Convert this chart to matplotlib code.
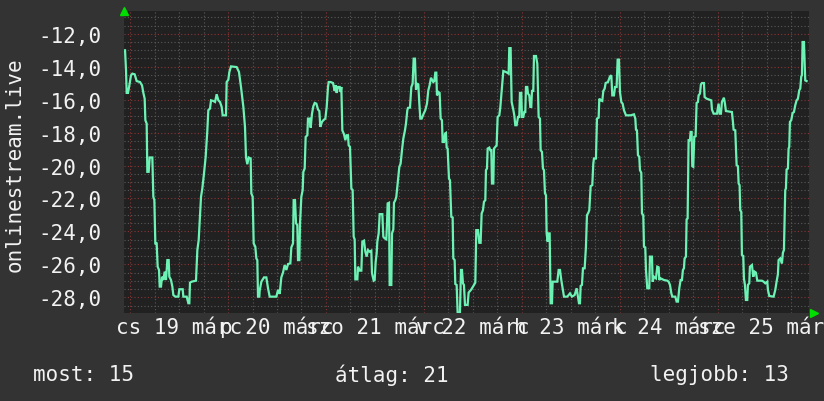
import numpy as np
import matplotlib.pyplot as plt
from matplotlib.ticker import MultipleLocator, FuncFormatter

# --- 1. Data (hours since 19 Mar 00:00, value) ---
hours = [
    -1.22, -0.98, -0.82, -0.49, -0.16, 0.24, 0.57, 1.14, 1.63, 2.45, 2.94, 3.27, 3.59, 3.76, 4.08,
    4.24, 4.57, 4.82, 5.47, 5.71, 5.96, 6.20, 6.53, 6.77, 7.10, 7.27, 7.59, 7.84, 8.16, 8.49,
    8.82, 9.14, 9.47, 9.63, 10.04, 10.37, 10.61, 11.10, 11.84, 12.08, 12.90, 13.06, 13.88, 14.29, 14.53,
    14.69, 15.10, 16.16, 16.49, 16.82, 17.14, 17.39, 17.71, 18.12, 18.53, 18.94, 19.18, 19.59, 19.84, 20.41,
    20.82, 21.22, 21.63, 22.04, 22.45, 22.69, 23.51, 23.67, 24.08, 24.33, 24.73, 26.12, 26.69, 27.18, 27.76,
    28.16, 28.41, 28.73, 29.06, 29.55, 29.71, 30.04, 30.29, 30.69, 30.94, 31.18, 31.35, 31.67,
    31.76, 32.17, 32.82, 33.39, 33.80, 34.21, 35.84, 36.25, 36.66, 37.06, 37.47, 37.88, 38.29, 38.70, 39.27,
    39.51, 39.92, 40.08, 40.41, 40.66, 40.98, 41.15, 41.47, 41.64, 41.96, 42.29, 42.45, 42.78, 43.02, 43.43,
    43.59, 44.00, 44.25, 44.57, 44.90, 45.23, 45.64, 46.04, 46.37, 46.61, 47.02, 47.35, 47.84, 48.17, 48.49,
    48.66, 49.15, 49.72, 50.13, 50.37, 50.61, 50.94, 51.35, 51.59, 51.76, 52.00, 52.41, 52.74, 53.06, 53.39,
    53.55, 53.88, 54.21, 54.53, 54.78, 55.02, 55.19, 55.68, 55.84, 56.25, 56.66, 56.90, 57.31, 57.64, 57.96,
    58.29, 58.70, 59.10, 59.27, 59.68, 59.92, 60.17, 60.41, 60.57, 60.90, 61.15, 61.80, 62.04, 62.37, 62.78,
    62.94, 63.10, 63.43, 63.59, 64.00, 64.17, 64.49, 64.65, 64.98, 65.22,
    65.55, 65.96, 66.28, 66.61, 66.94, 67.34, 67.59, 67.92, 68.08, 68.57, 68.90, 69.22, 69.47, 69.79, 70.04,
    70.28, 70.61, 70.85, 71.10, 71.43, 71.92, 72.32, 72.73, 73.06, 73.38, 73.71, 74.28, 74.53, 74.77, 75.02,
    75.18, 75.51, 75.83, 76.08, 76.40, 76.57, 76.90, 77.14, 77.38, 77.55, 77.79, 78.12, 78.36, 78.69, 79.02,
    79.18, 79.51, 79.67, 80.00, 80.24, 80.81, 81.06, 81.30, 81.55, 81.79, 82.04, 82.69, 82.94, 83.51, 83.91,
    84.57, 84.81, 85.22, 85.55, 85.87, 86.12, 86.45, 86.69, 87.02, 87.18, 87.43, 87.59, 88.00, 88.24, 88.49,
    88.65, 88.98, 89.14, 89.47, 89.79, 90.04, 90.45, 90.69, 91.10, 91.43, 92.08, 92.49, 92.73, 92.89, 93.22,
    93.47, 93.87, 94.12, 94.36, 94.69, 95.02, 95.34, 95.51, 95.83, 96.00, 96.32, 96.57, 96.81, 96.98, 97.30,
    97.47, 97.79, 98.04, 98.28, 98.45, 98.77, 98.94, 99.43,
    99.76, 100.08, 100.41, 100.57, 100.90, 101.14, 101.39, 101.63, 101.88, 102.04, 102.29, 102.53, 102.78, 103.02, 103.35,
    103.51, 104.65, 104.98, 105.31, 105.63, 105.96, 106.29, 107.10, 107.76, 108.24, 108.90, 109.39, 109.71, 109.96, 110.20,
    110.37, 110.69, 110.94, 111.35, 111.67, 111.92, 112.25, 112.49, 112.82, 113.22, 113.47, 113.63, 114.12, 114.37, 114.78,
    114.94, 115.27, 115.67, 115.92, 116.25, 116.49, 117.06, 117.55, 117.88, 118.12, 118.53, 118.78, 119.18, 119.43, 119.76,
    120.00, 120.33, 120.65, 120.98, 121.47, 122.61, 123.43, 123.76, 123.92, 124.16, 124.41, 124.73, 124.90, 125.22, 125.39,
    125.71, 125.88, 126.20, 126.37, 126.69, 127.18, 127.35, 127.84, 128.00, 128.33, 128.82, 129.14, 129.47, 129.63, 129.96,
    130.78, 131.59, 131.92, 132.25, 132.57, 132.82,
    132.98, 133.55, 133.87, 134.20, 134.36, 134.53, 134.85, 135.18, 135.42, 135.67, 135.83, 136.16, 136.32, 136.57, 136.81,
    137.14, 137.30, 137.55, 137.71, 137.95, 138.20, 138.53, 138.77, 139.10, 139.26, 139.59, 139.83, 140.08, 140.57, 140.73,
    141.22, 141.87, 142.36, 142.53, 142.93, 143.75, 144.16, 144.40, 144.73, 144.97, 145.46, 145.71, 145.95, 147.42, 147.67,
    147.83, 148.24, 148.57, 148.89, 149.06, 149.30, 149.46, 149.71, 149.87, 150.20, 150.36, 150.61, 150.85, 151.18, 151.34,
    151.67, 151.83, 152.32, 152.65, 152.97, 153.30, 153.63, 154.77, 155.18, 155.59, 156.08, 156.24, 156.57, 157.63, 158.04,
    158.36, 158.69, 158.85, 159.26, 159.67, 159.91, 160.16, 160.32, 160.48, 160.65, 160.81, 161.14, 161.30, 161.46, 161.63,
    161.95, 162.28, 162.61, 162.93, 163.26, 163.59, 163.91, 164.16, 164.40, 164.57, 164.73, 165.06, 165.38, 165.71,
]
values = [
    -13.0, -14.22, -15.59, -15.59, -15.13, -14.52, -14.42, -14.46, -14.87, -14.93, -15.13, -15.59, -15.94, -17.25, -17.45,
    -20.38, -20.38, -19.51, -19.51, -21.90, -22.10, -24.73, -24.73, -26.14, -26.34, -27.35, -27.35, -26.75, -26.95, -26.44,
    -26.95, -25.74, -25.74, -26.75, -26.95, -27.35, -27.86, -27.96, -27.96, -27.51, -27.51, -27.96, -27.96, -28.36, -28.36,
    -27.11, -27.05, -26.99, -25.13, -24.52, -23.11, -21.90, -21.39, -20.48, -19.47, -17.86, -16.64, -16.54, -16.04, -16.08,
    -16.14, -15.67, -16.04, -16.14, -16.44, -16.95, -16.95, -14.93, -14.79, -14.32, -13.98, -14.02, -14.32, -15.23, -16.44,
    -17.65, -19.51, -19.92, -19.51, -19.57, -21.69, -21.90, -24.73, -24.93, -25.64, -25.74, -27.96, -27.96,
    -27.59, -27.05, -26.79, -26.79, -27.45, -27.96, -27.96, -27.55, -27.79, -26.79, -26.50, -26.04, -26.34, -25.98, -25.94,
    -24.97, -24.73, -22.10, -22.10, -23.51, -23.61, -25.74, -25.74, -23.51, -21.90, -21.49, -20.38, -20.18, -18.26, -18.16,
    -17.15, -17.15, -17.70, -16.85, -16.40, -16.20, -16.24, -16.60, -16.69, -17.65, -17.35, -17.25, -17.15, -16.44, -15.23,
    -14.93, -14.93, -14.99, -15.47, -15.13, -15.59, -15.23, -15.23, -15.53, -15.23, -17.86, -18.10, -18.46, -18.16, -18.16,
    -18.77, -18.87, -21.39, -21.49, -24.32, -24.48, -26.91, -26.91, -26.14, -26.38, -26.38, -24.62, -24.56, -25.23, -25.53,
    -25.13, -25.23, -25.17, -26.54, -26.99, -26.95, -25.84, -25.33, -24.62, -24.12, -22.95, -22.95, -24.32, -24.42, -24.48,
    -23.51, -22.30, -22.26, -27.25, -27.25, -24.12, -23.88, -22.26, -22.10, -21.90,
    -21.09, -20.08, -19.88, -19.07, -18.36, -17.86, -17.45, -16.64, -16.50, -16.48, -15.23, -15.03, -13.51, -13.51, -15.39,
    -15.03, -15.07, -16.20, -17.15, -17.15, -16.85, -16.64, -16.24, -15.43, -15.13, -14.67, -14.93, -14.87, -14.36, -14.36,
    -15.74, -15.53, -15.59, -17.15, -17.25, -18.57, -18.57, -18.06, -18.02, -18.91, -18.97, -20.79, -20.89, -23.11, -23.15,
    -25.64, -25.74, -27.19, -27.25, -28.93, -28.93, -26.34, -26.34, -27.15, -27.25, -28.46, -28.46, -27.71, -27.55, -27.39,
    -27.11, -23.92, -23.92, -24.69, -24.69, -22.91, -22.71, -22.20, -22.10, -20.28, -20.18, -18.97, -18.91, -19.07, -19.07,
    -21.09, -21.09, -18.97, -18.87, -18.77, -17.05, -16.95, -16.48, -15.23, -14.26, -14.32, -14.38, -14.42, -12.87, -12.87,
    -16.14, -16.60, -16.95, -17.55, -17.55, -17.05, -17.05, -15.59, -15.59, -17.05, -17.05, -16.75, -16.75, -15.23, -15.23,
    -15.63, -15.74, -16.44, -16.44, -15.47, -15.47, -13.35, -13.35,
    -13.82, -17.05, -17.15, -19.07, -19.17, -20.18, -20.28, -21.69, -21.80, -24.12, -24.62, -24.12, -24.12, -28.36, -28.36,
    -27.05, -27.05, -26.34, -26.34, -26.95, -27.45, -27.96, -27.96, -27.76, -27.96, -27.86, -27.45, -27.96, -28.36, -28.36,
    -27.31, -27.25, -26.24, -26.24, -24.93, -23.01, -22.87, -22.71, -21.25, -21.19, -19.88, -19.57, -19.57, -17.15, -17.09,
    -15.94, -16.04, -16.08, -15.47, -15.33, -14.99, -14.93, -14.59, -14.52, -15.74, -15.74, -15.23, -15.23, -13.57, -13.57,
    -15.53, -16.14, -16.24, -16.64, -16.95, -16.95, -16.89, -17.15, -17.82, -17.86, -19.37, -19.47, -20.28, -20.44, -22.91,
    -23.01, -24.93, -24.97, -26.34, -27.45, -27.45, -25.53, -25.53, -27.05, -26.75, -26.85, -26.14, -26.18, -26.95, -26.85,
    -26.95, -26.99, -27.05, -27.25, -27.74, -27.96,
    -27.96, -27.96, -28.26, -28.26, -27.86, -27.45, -26.95, -26.95, -26.34, -26.24, -25.64, -25.53, -23.27, -23.21, -18.46,
    -18.46, -17.96, -17.96, -20.04, -20.08, -18.26, -18.22, -16.20, -16.14, -15.74, -15.63, -15.07, -14.99, -14.99, -15.84,
    -15.94, -16.00, -16.04, -16.60, -16.85, -16.85, -16.24, -16.85, -16.85, -16.14, -15.88, -16.24, -16.69, -16.75, -17.35,
    -17.82, -17.86, -19.98, -20.04, -21.09, -21.19, -22.71, -22.81, -25.43, -25.49, -26.85, -27.25, -28.16, -28.16, -27.25,
    -27.15, -26.14, -26.04, -26.75, -26.44, -26.50, -26.99, -26.99, -27.05, -27.15, -27.05, -27.55, -27.92, -27.96, -27.55,
    -27.05, -26.59, -25.74, -25.64, -25.94, -25.29, -25.13, -23.21, -21.49, -21.39, -20.24, -20.18, -18.97, -18.87, -17.35,
    -17.25, -16.81, -16.75, -16.34, -16.04, -15.94, -15.43, -15.33, -14.59, -14.52, -12.50, -12.50, -14.83, -14.87,
]

day_labels = ['cs 19 márc', 'p 20 márc', 'szo 21 márc', 'v 22 márc',
              'h 23 márc', 'k 24 márc', 'sze 25 márc']
label_hours = [12, 36, 60, 84, 108, 132, 156]
series_name = 'onlinestream.live'
summary = ['most: 15', 'átlag: 21', 'legjobb: 13']

# --- 2. Style ---
bg_fig = '#333333'
bg_ax = '#212121'
line_c = '#6cf2b4'
txt_c = '#f2f2f2'
mono = 'DejaVu Sans Mono'

fig = plt.figure(figsize=(8.24, 4.02), dpi=100, facecolor=bg_fig)
ax = fig.add_axes([0.1505, 0.219, 0.8313, 0.751], facecolor=bg_ax)

ax.plot(hours, values, color=line_c, linewidth=1.6, solid_joinstyle='miter')

ax.set_xlim(-1.47, 166.3)
ax.set_ylim(-28.95, -10.62)

# grid: gray dotted minor, red dotted major
ax.xaxis.set_major_locator(MultipleLocator(24))
ax.xaxis.set_minor_locator(MultipleLocator(6))
ax.yaxis.set_major_locator(MultipleLocator(2))
ax.yaxis.set_minor_locator(MultipleLocator(0.5))
ax.grid(which='minor', color='#5a5a5a', linestyle=(0, (1, 2)), linewidth=0.8)
ax.grid(which='major', color='#8a3434', linestyle=(0, (1, 2)), linewidth=0.8)
ax.set_axisbelow(True)

ax.yaxis.set_major_formatter(FuncFormatter(lambda v, p: f'{v:.1f}'.replace('.', ',')))
ax.tick_params(axis='y', which='major', labelsize=15, labelcolor=txt_c, length=0, pad=16)
ax.tick_params(axis='y', which='minor', length=0)
ax.tick_params(axis='x', which='both', length=0, labelbottom=False)
for lab in ax.get_yticklabels():
    lab.set_fontfamily(mono)
for s in ax.spines.values():
    s.set_visible(False)

# day labels centred at noon (they overlap, as in the original)
for h, lab in zip(label_hours, day_labels):
    ax.text(h, -0.045, lab, transform=ax.get_xaxis_transform(), ha='center', va='center',
            fontsize=15, family=mono, color=txt_c, clip_on=False)

# axis arrows
ax.plot([0], [1.0], marker='^', color='#00dd00', markersize=6, transform=ax.transAxes, clip_on=False)
ax.plot([1.008], [0.0], marker='>', color='#00dd00', markersize=6, transform=ax.transAxes, clip_on=False)

fig.text(0.018, 0.59, series_name, rotation=90, ha='center', va='center',
         fontsize=15, family=mono, color=txt_c)

for x, s in zip([0.040, 0.406, 0.789], summary):
    fig.text(x, 0.067, s, ha='left', va='center', fontsize=15, family=mono, color=txt_c)

plt.savefig('out.png', dpi=100, facecolor=bg_fig)
